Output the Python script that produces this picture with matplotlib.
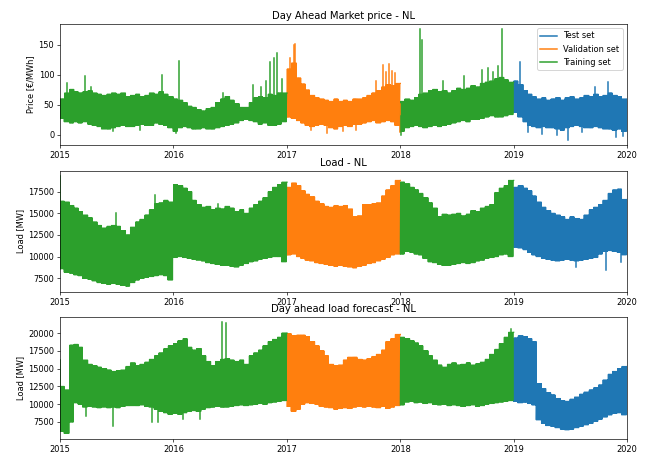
import numpy as np
import pandas as pd
import matplotlib
matplotlib.use("Agg")
import matplotlib.pyplot as plt
import matplotlib.dates as mdates
from matplotlib.lines import Line2D

# ---------------- data (half-monthly envelopes) ----------------
dates = pd.date_range("2015-01-01", periods=120, freq="SMS")  # 1st and 15th of each month
end_date = pd.Timestamp("2020-01-01")

# index ranges of each set
train_idx = [list(range(0, 48)), list(range(72, 96))]
val_idx = [list(range(48, 72))]
test_idx = [list(range(96, 120))]

# Day ahead market price [EUR/MWh]
price_hi = [60, 70, 76, 72, 70, 72, 74, 70, 68, 66, 68, 70, 68, 70, 64, 66, 68, 64, 66, 70, 68, 72, 68, 64,
            60, 58, 54, 48, 46, 42, 40, 44, 46, 54, 60, 64, 58, 52, 46, 46, 54, 62, 64, 62, 68, 66, 70, 70,
            110, 120, 95, 85, 75, 66, 62, 60, 58, 56, 60, 56, 58, 56, 60, 60, 62, 66, 70, 74, 80, 84, 82, 86,
            56, 60, 58, 62, 68, 70, 74, 76, 72, 74, 70, 74, 78, 76, 78, 82, 80, 86, 88, 90, 94, 96, 92, 88,
            90, 84, 74, 68, 64, 60, 62, 58, 60, 62, 58, 62, 64, 60, 62, 66, 64, 68, 64, 66, 70, 66, 64, 60]
price_lo = [28, 22, 20, 22, 20, 22, 18, 16, 14, 10, 10, 12, 14, 16, 14, 14, 16, 18, 16, 16, 20, 18, 16, 12,
            6, 12, 14, 12, 10, 10, 12, 10, 10, 12, 14, 16, 18, 20, 24, 26, 24, 22, 18, 20, 16, 16, 18, 22,
            30, 28, 24, 20, 16, 14, 16, 18, 16, 12, 10, 14, 16, 14, 18, 18, 20, 22, 24, 20, 22, 24, 22, 16,
            6, 12, 14, 16, 14, 12, 14, 16, 14, 16, 18, 20, 22, 24, 22, 26, 26, 28, 30, 32, 30, 30, 32, 34,
            38, 30, 22, 16, 14, 12, 14, 12, 12, 10, 8, 12, 14, 16, 14, 12, 12, 14, 12, 10, 10, 8, 10, 6]
price_spike_dates = ["2015-01-25", "2015-03-22", "2015-04-12", "2015-06-20", "2015-09-15", "2015-11-24",
                     "2016-01-08", "2016-01-20", "2016-06-10", "2016-09-13", "2016-10-09", "2016-10-25",
                     "2016-11-08", "2016-11-21", "2016-12-01", "2016-12-17",
                     "2017-01-10", "2017-01-24", "2017-01-28", "2017-03-20", "2017-05-10", "2017-07-01",
                     "2017-08-10", "2017-10-15", "2017-11-05", "2017-11-15", "2017-11-25", "2017-12-05",
                     "2017-12-15", "2017-12-30", "2018-01-02",
                     "2018-03-04", "2018-03-11", "2018-05-20", "2018-07-25", "2018-09-20", "2018-10-10",
                     "2018-10-25", "2018-11-10", "2018-11-25",
                     "2019-01-22", "2019-02-15", "2019-04-01", "2019-05-20", "2019-06-25", "2019-08-10",
                     "2019-09-20", "2019-11-02", "2019-11-25", "2019-12-20"]
price_spike_vals = [86, 98, 80, 6, 8, 100,
                    3, 124, 70, 83, 80, 90,
                    122, 128, 136, 93,
                    128, 150, 152, 8, 3, 6,
                    8, 90, 116, 105, 118, 106,
                    104, 5, 0,
                    176, 158, 90, 98, 108, 112,
                    105, 115, 176,
                    122, 5, 2, 0, -8, 5,
                    80, 89, -3, -2]

# Load [MW]
load_hi = [16400, 16300, 15900, 15600, 15200, 14800, 14500, 14000, 13600, 13300, 13500, 13600,
           13500, 13000, 12500, 13400, 14000, 14300, 14800, 15400, 16100, 16200, 16500, 16300,
           18300, 18200, 17900, 17500, 16500, 16000, 15700, 15800, 15400, 15600, 15500, 15800,
           15600, 15200, 15400, 15000, 15600, 16000, 16400, 16800, 17500, 18000, 18300, 18600,
           18000, 18500, 18200, 17600, 17200, 16900, 16400, 16100, 15800, 15700, 15900, 15800,
           15900, 15500, 14600, 14700, 16000, 16000, 16100, 16200, 17000, 17700, 18200, 18800,
           18600, 18400, 18000, 17700, 17300, 16800, 16200, 15600, 14600, 14900, 14800, 14900,
           15000, 14700, 14900, 15300, 15200, 15600, 15800, 16000, 17400, 17900, 18200, 18800,
           18000, 18200, 17900, 17600, 17000, 16300, 15700, 15300, 15000, 14800, 14600, 14300,
           14600, 14400, 14300, 14800, 15400, 15700, 16000, 16500, 17300, 17700, 17800, 16600]
load_lo = [8600, 8200, 8100, 7900, 7800, 7500, 7400, 7200, 7000, 6900, 6800, 6900,
           6800, 6700, 6600, 7000, 7300, 7500, 7600, 7700, 7800, 7900, 7800, 7300,
           9900, 10000, 9900, 9800, 9700, 9600, 9500, 9300, 9200, 9100, 9000, 9000,
           8900, 8800, 9000, 9200, 9400, 9500, 9700, 9800, 9900, 10000, 10000, 9400,
           10200, 10300, 10000, 9800, 9600, 9500, 9300, 9200, 9100, 9000, 8900, 9000,
           8900, 8800, 8700, 8900, 9000, 9200, 9300, 9500, 9700, 9900, 10200, 10300,
           10300, 10600, 10500, 10300, 10200, 9800, 9400, 9300, 9100, 9000, 9000, 9100,
           9200, 9300, 9200, 9300, 9500, 9600, 9800, 9900, 10000, 10200, 10300, 10000,
           11100, 11000, 10800, 10500, 10200, 10000, 9800, 9700, 9600, 9500, 9600, 9700,
           9600, 9500, 9600, 9700, 9800, 9900, 10300, 10600, 10700, 10600, 10500, 10200]
load_spike_dates = ["2015-01-02", "2015-07-01", "2015-11-02", "2016-05-25", "2019-07-22", "2019-10-25",
                    "2019-12-14"]
load_spike_vals = [19300, 15000, 17100, 16100, 8800, 8500, 9400]

# Day ahead load forecast [MW]
fc_hi = [12500, 12000, 18300, 18400, 18000, 16200, 15600, 15400, 15200, 15000, 14800, 14600,
         14700, 14800, 15300, 15800, 15400, 15600, 15900, 16300, 16800, 17200, 17800, 18200,
         18500, 18900, 19200, 18000, 17600, 17800, 16800, 16000, 15400, 16000, 16300, 16400,
         16200, 16000, 16200, 15600, 16800, 17200, 17600, 18200, 18800, 19100, 19400, 20000,
         19900, 19600, 19700, 19700, 19500, 18800, 18200, 17500, 16800, 15600, 15400, 15500,
         16200, 16600, 16600, 16300, 16200, 16400, 16700, 17000, 17600, 18800, 19200, 19800,
         19400, 19200, 18900, 18600, 18200, 17500, 16800, 16200, 15500, 15200, 15600, 15800,
         15500, 15600, 15800, 15500, 15700, 15900, 16300, 17000, 17700, 18500, 19400, 20100,
         19300, 19600, 19500, 19200, 18800, 12900, 12200, 11600, 11300, 10800, 10500, 10400,
         10700, 11000, 11400, 11700, 12000, 12300, 12700, 13400, 14200, 14600, 15000, 15300]
fc_lo = [6200, 5900, 7500, 10200, 10000, 9600, 9700, 9600, 9500, 9600, 9500, 9600,
         9500, 9700, 9800, 9800, 9800, 9900, 9700, 9600, 9300, 9000, 8800, 8600,
         8700, 8600, 8800, 9000, 9100, 9000, 9300, 9500, 9600, 9700, 9600, 9600,
         9700, 9800, 9900, 9800, 9900, 10000, 10100, 10000, 10200, 10300, 10400, 10500,
         9700, 9000, 9300, 10000, 10200, 10100, 10000, 9700, 9600, 9500, 9300, 9400,
         9500, 9400, 9600, 9700, 9600, 9700, 9600, 9500, 9700, 9400, 9600, 9800,
         9900, 10300, 10400, 10200, 10300, 10100, 10200, 10000, 9900, 10000, 9800, 9900,
         9800, 9700, 9800, 9900, 9700, 9800, 10000, 10100, 10200, 10300, 10400, 10500,
         10400, 10200, 10300, 10100, 9900, 7800, 7300, 7000, 6900, 6700, 6500, 6400,
         6500, 6700, 6900, 7100, 7300, 7600, 7900, 8200, 8500, 8700, 8800, 8500]
fc_spike_dates = ["2015-01-02", "2015-03-25", "2015-06-20", "2015-10-24", "2015-11-12", "2016-02-01",
                  "2016-03-28", "2016-06-05", "2016-06-20", "2018-12-25"]
fc_spike_vals = [16200, 8400, 6900, 7500, 7500, 7900, 7900, 21500, 21400, 20500]

titles = ["Day Ahead Market price - NL", "Load - NL", "Day ahead load forecast - NL"]
ylabels = ["Price [€/MWh]", "Load [MW]", "Load [MW]"]
set_labels = ["Test set", "Validation set", "Training set"]
price_ticks = [0, 50, 100, 150]
load_ticks = [7500, 10000, 12500, 15000, 17500]
fc_ticks = [7500, 10000, 12500, 15000, 17500, 20000]

# ---------------- style (reference is a ~0.83x downscaled default figure) ----------------
S = 0.83
plt.rcParams.update({
    "font.size": 10 * S,
    "axes.titlesize": 12 * S,
    "axes.linewidth": 0.8 * S,
    "xtick.major.size": 3.5 * S, "ytick.major.size": 3.5 * S,
    "xtick.major.width": 0.8 * S, "ytick.major.width": 0.8 * S,
    "xtick.major.pad": 3.5 * S, "ytick.major.pad": 3.5 * S,
    "axes.titlepad": 6 * S, "axes.labelpad": 4 * S,
    "legend.fontsize": 10 * S,
})
LW = 1.5 * S

# ---------------- drawing ----------------
C_TEST, C_VAL, C_TRAIN = "#1f77b4", "#ff7f0e", "#2ca02c"
x_num = mdates.date2num(dates.to_pydatetime())
x_next = np.append(x_num[1:], mdates.date2num(end_date.to_pydatetime()))
K = 6  # zig-zag strokes per half-month, to render the dense hourly band


def band(ax, lo, hi, segments, color):
    for seg in segments:
        xs, ys = [], []
        for i in seg:
            d = x_next[i] - x_num[i]
            for j in range(2 * K):
                xs.append(x_num[i] + d * j / (2 * K))
                ys.append(lo[i] if j % 2 == 0 else hi[i])
        xs.append(x_next[seg[-1]])
        ys.append(hi[seg[-1]])
        ax.plot(xs, ys, color=color, lw=LW)


def spikes(ax, lo, hi, sdates, svals):
    sd = mdates.date2num(pd.to_datetime(sdates).to_pydatetime())
    for x, v in zip(sd, svals):
        i = int(np.searchsorted(x_num, x, side="right") - 1)
        base = 0.5 * (lo[i] + hi[i])
        if i >= 96:
            c = C_TEST
        elif 48 <= i < 72:
            c = C_VAL
        else:
            c = C_TRAIN
        ax.plot([x, x], [base, v], color=c, lw=1.5)


W, H = 650, 454
fig = plt.figure(figsize=(W / 72, H / 72), dpi=72)
boxes = [(60, 24, 627, 145), (60, 170.7, 627, 291.7), (60, 316.7, 627, 439.3)]
panels = [(price_lo, price_hi, price_spike_dates, price_spike_vals, (-16.7, 185), price_ticks),
          (load_lo, load_hi, load_spike_dates, load_spike_vals, (5950, 19920), load_ticks),
          (fc_lo, fc_hi, fc_spike_dates, fc_spike_vals, (5070, 22290), fc_ticks)]

for k, ((x0, y0, x1, y1), (lo, hi, sdt, sv, ylim, yt)) in enumerate(zip(boxes, panels)):
    ax = fig.add_axes([x0 / W, 1 - y1 / H, (x1 - x0) / W, (y1 - y0) / H])
    band(ax, lo, hi, test_idx, C_TEST)
    band(ax, lo, hi, val_idx, C_VAL)
    band(ax, lo, hi, train_idx, C_TRAIN)
    spikes(ax, lo, hi, sdt, sv)
    ax.set_xlim(mdates.date2num(pd.Timestamp("2015-01-01").to_pydatetime()),
                mdates.date2num(end_date.to_pydatetime()))
    ax.set_ylim(*ylim)
    ax.set_yticks(yt)
    ax.xaxis.set_major_locator(mdates.YearLocator())
    ax.xaxis.set_major_formatter(mdates.DateFormatter("%Y"))
    ax.set_title(titles[k])
    ax.set_ylabel(ylabels[k])
    if k == 0:
        handles = [Line2D([], [], color=c, lw=1.5) for c in (C_TEST, C_VAL, C_TRAIN)]
        ax.legend(handles=handles, labels=set_labels, loc="upper right")

fig.savefig("out.png", dpi=72)
